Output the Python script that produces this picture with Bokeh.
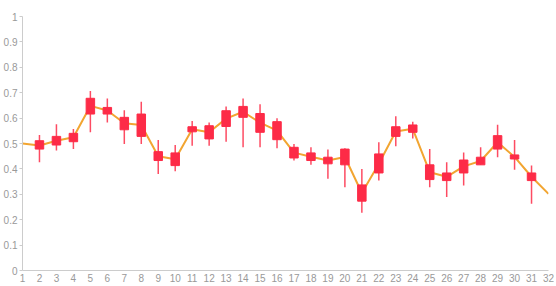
from bokeh.plotting import figure
from bokeh.models import ColumnDataSource, FixedTicker, Range1d
from bokeh.embed import file_html
from bokeh.resources import INLINE

# ---- data ----
candle_x = list(range(2, 32))
box_low = [0.478, 0.494, 0.507, 0.616, 0.616, 0.554, 0.528, 0.433, 0.413, 0.546,
           0.518, 0.567, 0.603, 0.544, 0.515, 0.443, 0.433, 0.420, 0.416, 0.273,
           0.384, 0.528, 0.544, 0.358, 0.354, 0.384, 0.416, 0.478, 0.439, 0.354]
box_high = [0.511, 0.528, 0.540, 0.678, 0.642, 0.603, 0.616, 0.468, 0.463, 0.566,
            0.570, 0.629, 0.646, 0.618, 0.586, 0.485, 0.463, 0.446, 0.478, 0.337,
            0.459, 0.566, 0.573, 0.416, 0.384, 0.435, 0.446, 0.531, 0.455, 0.384]
whisker_low = [0.426, 0.472, 0.478, 0.544, 0.583, 0.498, 0.498, 0.380, 0.391, 0.491,
               0.491, 0.507, 0.485, 0.485, 0.481, 0.433, 0.416, 0.361, 0.328, 0.227,
               0.354, 0.489, 0.520, 0.328, 0.289, 0.335, 0.416, 0.446, 0.397, 0.263]
whisker_high = [0.533, 0.576, 0.557, 0.707, 0.677, 0.631, 0.664, 0.514, 0.494, 0.589,
                0.583, 0.646, 0.677, 0.655, 0.599, 0.498, 0.485, 0.476, 0.481, 0.400,
                0.505, 0.607, 0.586, 0.478, 0.426, 0.465, 0.485, 0.574, 0.514, 0.413]
line_x = list(range(1, 33))
line_y = [0.500, 0.492, 0.511, 0.525, 0.648, 0.630, 0.580, 0.573, 0.450, 0.438,
          0.556, 0.544, 0.598, 0.625, 0.582, 0.551, 0.464, 0.448, 0.433, 0.447,
          0.305, 0.420, 0.547, 0.558, 0.387, 0.369, 0.410, 0.431, 0.505, 0.447,
          0.369, 0.302]
x_ticks = list(range(1, 33))
y_ticks = [0, 0.1, 0.2, 0.3, 0.4, 0.5, 0.6, 0.7, 0.8, 0.9, 1]

RED = "#fd2b47"
ORANGE = "#f2a531"

src = ColumnDataSource(dict(x=candle_x, bl=box_low, bh=box_high,
                            wl=whisker_low, wh=whisker_high))

p = figure(width=554, height=284, output_backend="svg", toolbar_location=None,
           x_range=Range1d(1, 32), y_range=Range1d(0, 1),
           min_border_left=20, min_border_right=6, min_border_top=16,
           min_border_bottom=0)
p.outline_line_color = None
p.xgrid.visible = False
p.ygrid.visible = False

p.line(line_x, line_y, line_color=ORANGE, line_width=2)
p.segment(x0="x", y0="wl", x1="x", y1="wh", source=src,
          line_color=RED, line_width=1.5, line_alpha=0.85)
p.vbar(x="x", bottom="bl", top="bh", width=0.5, source=src,
       fill_color=RED, line_color=RED, line_width=1)

for ax in (p.xaxis[0], p.yaxis[0]):
    ax.axis_line_color = "#cccccc"
    ax.major_tick_line_color = "#cccccc"
    ax.minor_tick_line_color = None
    ax.major_label_text_color = "#999999"
    ax.major_label_text_font = "Liberation Sans"
    ax.major_label_text_font_size = "10px"

p.xaxis.ticker = FixedTicker(ticks=x_ticks)
p.xaxis.major_tick_out = 0
p.xaxis.major_tick_in = 0
p.xaxis.major_label_standoff = 3
p.yaxis.ticker = FixedTicker(ticks=y_ticks)
p.yaxis.major_tick_out = 3
p.yaxis.major_tick_in = 0
p.yaxis.major_label_standoff = 2

open("out.html", "w").write(file_html(p, INLINE))
